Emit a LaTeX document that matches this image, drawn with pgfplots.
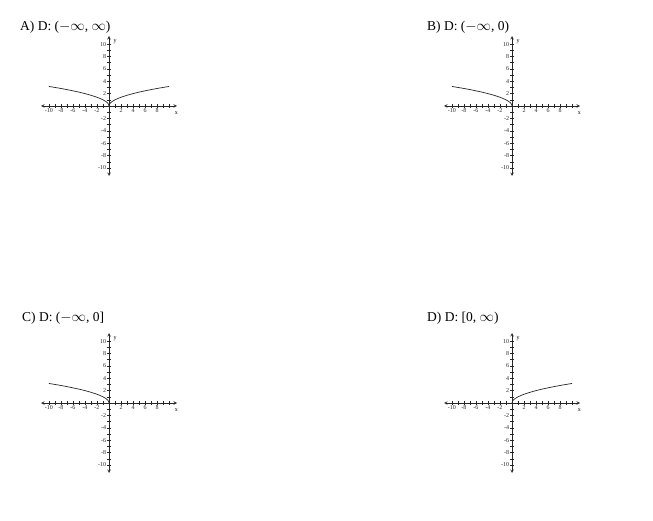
\documentclass[border=0pt]{standalone}
\usepackage{pgfplots}
\pgfplotsset{compat=1.18}
\usepackage{fontspec}
\setmainfont{Liberation Serif}
\pgfplotstableread{
x y
-10 3.16
-9 3.00
-8 2.83
-7 2.65
-6 2.45
-5 2.24
-4 2.00
-3 1.73
-2 1.41
-1.5 1.22
-1 1.00
-0.5 0.71
-0.25 0.50
-0.1 0.32
0 0
}\leftdata
\pgfplotstableread{
x y
0 0
0.1 0.32
0.25 0.50
0.5 0.71
1 1.00
1.5 1.22
2 1.41
3 1.73
4 2.00
5 2.24
6 2.45
7 2.65
8 2.83
9 3.00
10 3.16
}\rightdata
\pgfplotsset{
  minigraph/.style={
    scale only axis, width=136pt, height=140pt,
    anchor=center,
    axis lines=middle,
    axis line style={<->, >=stealth, line width=0.6pt, black!85},
    xmin=-11.3, xmax=11.3, ymin=-11.3, ymax=11.3,
    xtick={-10,-8,-6,-4,-2,2,4,6,8},
    ytick={-10,-8,-6,-4,-2,2,4,6,8,10},
    minor xtick={-10,...,10}, minor ytick={-10,...,10},
    tick style={black!85, line width=0.5pt},
    major tick length=3.5pt, minor tick length=3.5pt,
    tick align=center,
    /pgf/number format/assume math mode=true,
    ticklabel style={font=\fontsize{6}{7}\selectfont, inner sep=1pt, text=black!85},
    xlabel={x}, ylabel={y},
    xlabel style={font=\fontsize{6}{7}\selectfont, at={(axis cs:11.2,0)}, anchor=north, yshift=-2pt},
    ylabel style={font=\fontsize{6}{7}\selectfont, at={(axis cs:0,10.4)}, anchor=west, xshift=1pt},
    clip=false,
  },
  curve/.style={black!85, line width=0.7pt, smooth, no marks},
}
\begin{document}
\begin{tikzpicture}
\path[use as bounding box] (0pt,0pt) rectangle (653pt,520pt);
\node[anchor=base west, inner sep=0pt, font=\fontsize{13.5}{16}\selectfont] at (20pt,489pt) {A) D: ($-\infty$, $\infty$)};
\node[anchor=base west, inner sep=0pt, font=\fontsize{13.5}{16}\selectfont] at (427pt,489pt) {B) D: ($-\infty$, 0)};
\node[anchor=base west, inner sep=0pt, font=\fontsize{13.5}{16}\selectfont] at (22pt,199pt) {C) D: ($-\infty$, 0]};
\node[anchor=base west, inner sep=0pt, font=\fontsize{13.5}{16}\selectfont] at (427pt,199pt) {D) D: [0, $\infty$)};
\begin{axis}[minigraph, at={(109pt,414pt)}]
\addplot[curve] table {\leftdata};
\addplot[curve] table {\rightdata};
\end{axis}
\begin{axis}[minigraph, at={(512pt,414pt)}]
\addplot[curve] table {\leftdata};
\end{axis}
\begin{axis}[minigraph, at={(109pt,117pt)}]
\addplot[curve] table {\leftdata};
\end{axis}
\begin{axis}[minigraph, at={(512pt,117pt)}]
\addplot[curve] table {\rightdata};
\end{axis}
\end{tikzpicture}
\end{document}
